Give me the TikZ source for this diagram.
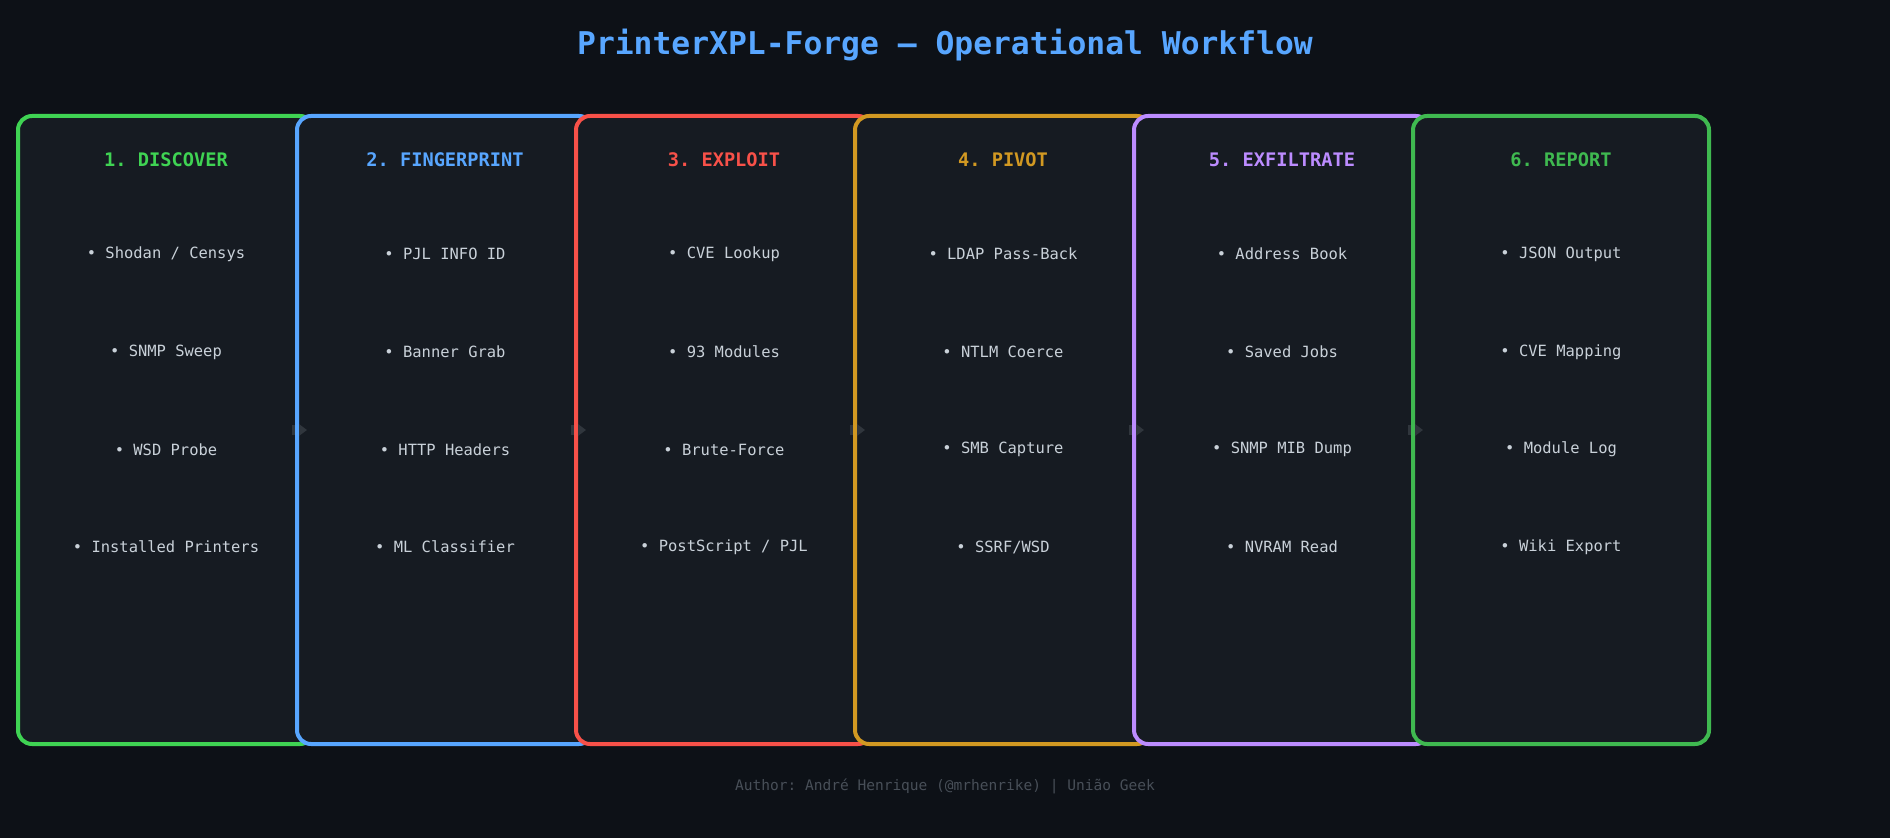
\documentclass[tikz,border=0pt]{standalone}
\usepackage{fontspec}
\setmonofont{DejaVu Sans Mono}
\usetikzlibrary{arrows.meta}
\definecolor{bgc}{HTML}{0D1117}
\definecolor{boxfill}{HTML}{161B22}
\definecolor{txt}{HTML}{C9D1D9}
\definecolor{foot}{HTML}{484F58}
\definecolor{ttl}{HTML}{58A6FF}
\definecolor{cA}{HTML}{3FD353}
\definecolor{cB}{HTML}{58A6FF}
\definecolor{cC}{HTML}{F85149}
\definecolor{cD}{HTML}{D29922}
\definecolor{cE}{HTML}{BC8CFF}
\definecolor{cF}{HTML}{3FB950}
\definecolor{arrc}{HTML}{30363D}
\tikzset{
  stagebox/.style={draw=#1, fill=boxfill, line width=3pt, rounded corners=10.5pt,
    minimum width=222pt, minimum height=471pt, inner sep=0pt, outer sep=0pt},
  head/.style={text=#1, font=\ttfamily\bfseries\fontsize{14}{16}\selectfont},
  item/.style={text=txt, font=\ttfamily\fontsize{11.6}{13}\selectfont},
  arr/.style={draw=arrc, line width=7pt, -{Triangle[length=7pt,width=10pt]}},
}
\begin{document}
\begin{tikzpicture}[x=0.75pt,y=-0.75pt]
\fill[bgc] (0,0) rectangle (1890,838);
\useasboundingbox (0,0) rectangle (1890,838);
\node[text=ttl, font=\ttfamily\bfseries\fontsize{23.5}{27}\selectfont] (title) at (945,45) {PrinterXPL-Forge — Operational Workflow};
% boxes
\foreach \i/\c/\h/\a/\b/\cc/\d in {
 1/cA/{1. DISCOVER}/{Shodan / Censys}/{SNMP Sweep}/{WSD Probe}/{Installed Printers},
 2/cB/{2. FINGERPRINT}/{PJL INFO ID}/{Banner Grab}/{HTTP Headers}/{ML Classifier},
 3/cC/{3. EXPLOIT}/{CVE Lookup}/{93 Modules}/{Brute-Force}/{PostScript / PJL},
 4/cD/{4. PIVOT}/{LDAP Pass-Back}/{NTLM Coerce}/{SMB Capture}/{SSRF/WSD},
 5/cE/{5. EXFILTRATE}/{Address Book}/{Saved Jobs}/{SNMP MIB Dump}/{NVRAM Read},
 6/cF/{6. REPORT}/{JSON Output}/{CVE Mapping}/{Module Log}/{Wiki Export}}{
  \pgfmathsetmacro{\cx}{166+279*(\i-1)}
  \node[stagebox=\c] (b\i) at (\cx,430) {};
  \node[head=\c] (h\i) at (\cx,160) {\h};
  \node[item] (i\i a) at (\cx,254) {• \a};
  \node[item] (i\i b) at (\cx,352) {• \b};
  \node[item] (i\i c) at (\cx,449.5) {• \cc};
  \node[item] (i\i d) at (\cx,547) {• \d};
}
\foreach \i/\c [evaluate=\i as \j using int(\i+1)] in {1/cB,2/cC,3/cD,4/cE,5/cF}{
  \draw[arr] ([xshift=-16.5pt]b\i.east) -- ([xshift=7.5pt]b\j.west);
  \draw[draw=\c, line width=3pt] ([yshift=12pt]b\j.west) -- ([yshift=-12pt]b\j.west);
}
\node[text=foot, font=\ttfamily\fontsize{10.9}{13}\selectfont] (footer) at (945,786) {Author: André Henrique (@mrhenrike) | União Geek};
\end{tikzpicture}
\end{document}
